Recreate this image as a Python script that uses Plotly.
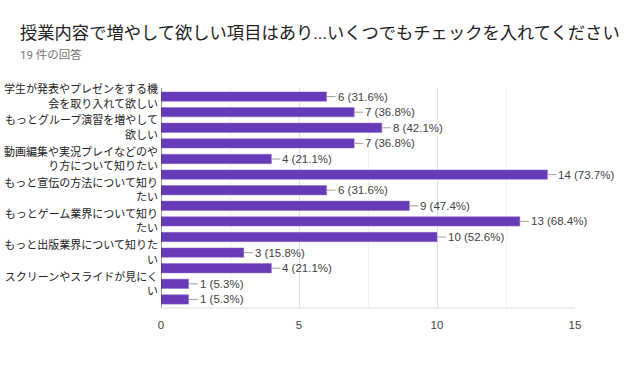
import plotly.graph_objects as go

categories = [
    "学生が発表やプレゼンをする機会を取り入れて欲しい",
    "項目2",
    "もっとグループ演習を増やして欲しい",
    "項目4",
    "動画編集や実況プレイなどのやり方について知りたい",
    "項目6",
    "もっと宣伝の方法について知りたい",
    "項目8",
    "もっとゲーム業界について知りたい",
    "項目10",
    "もっと出版業界について知りたい",
    "項目12",
    "スクリーンやスライドが見にくい",
    "項目14",
]
tick_labels = [
    "学生が発表やプレゼンをする機<br>会を取り入れて欲しい",
    "もっとグループ演習を増やして<br>欲しい",
    "動画編集や実況プレイなどのや<br>り方について知りたい",
    "もっと宣伝の方法について知り<br>たい",
    "もっとゲーム業界について知り<br>たい",
    "もっと出版業界について知りた<br>い",
    "スクリーンやスライドが見にく<br>い",
]
counts = [6, 7, 8, 7, 4, 14, 6, 9, 13, 10, 3, 4, 1, 1]
percents = [31.6, 36.8, 42.1, 36.8, 21.1, 73.7, 31.6, 47.4, 68.4, 52.6, 15.8, 21.1, 5.3, 5.3]
total = 19

FONT = "Roboto, 'Noto Sans CJK JP', sans-serif"
NUMFONT = "'Liberation Sans', Arial, 'Noto Sans CJK JP', sans-serif"
ypos = list(range(len(categories)))

fig = go.Figure()
fig.add_trace(go.Bar(
    x=counts, y=ypos, orientation="h",
    marker=dict(color="#673ab7", line=dict(color="#8c6bc8", width=0.5)),
    width=0.6, hovertext=categories, hoverinfo="text+x",
))

for yv, c, p in zip(ypos, counts, percents):
    fig.add_annotation(
        x=c, y=yv, xref="x", yref="y",
        text=f"{c} ({p}%)", showarrow=True, arrowhead=0, arrowwidth=1,
        arrowcolor="#9e9e9e", ax=9, ay=0, axref="pixel", ayref="pixel",
        xanchor="left", yanchor="middle", standoff=0,
        font=dict(family=NUMFONT, size=11.5, color="#424242"),
    )

PW = 414
fig.update_layout(
    width=640, height=369,
    margin=dict(l=161, r=65, t=88, b=61, autoexpand=False),
    paper_bgcolor="white", plot_bgcolor="white",
    showlegend=False, bargap=0.4,
    font=dict(family=FONT, color="#222"),
)
fig.add_annotation(
    xref="paper", yref="paper", x=-143/PW, y=1 + 55/220, xanchor="left", yanchor="middle",
    text="授業内容で増やして欲しい項目はあり...いくつでもチェックを入れてください",
    showarrow=False, font=dict(family=FONT, size=17.3, color="#212121"),
)
fig.add_annotation(
    xref="paper", yref="paper", x=-143/PW, y=1 + 33/220, xanchor="left", yanchor="middle",
    text=f"{total} 件の回答",
    showarrow=False, font=dict(family=FONT, size=11.5, color="#757575"),
)

fig.update_xaxes(
    range=[0, 15], tickvals=[0, 5, 10, 15], showgrid=True, gridcolor="#e0e0e0",
    minor=dict(tickvals=[2.5, 7.5, 12.5], showgrid=True, gridcolor="#f2f2f2"),
    zeroline=False, tickfont=dict(family=NUMFONT, size=11.5, color="#444"), ticks="",
    showline=False, ticklabelstandoff=8, automargin=False,
)
fig.update_yaxes(
    range=[13.55, -0.55], tickvals=ypos[::2], ticktext=tick_labels,
    showgrid=False, zeroline=False, showline=False, automargin=False,
    tickfont=dict(family=FONT, size=11, color="#222"), ticks="", ticklabelstandoff=2,
)
fig.add_shape(type="line", xref="x", yref="paper", x0=0, x1=0, y0=0, y1=1,
              line=dict(color="#333", width=1))
fig.add_shape(type="line", xref="paper", yref="paper", x0=0, x1=1, y0=0, y1=0,
              line=dict(color="#e0e0e0", width=1))

fig.write_html("out.html", config={"displayModeBar": False},
               post_script="document.body.style.margin='0';")
